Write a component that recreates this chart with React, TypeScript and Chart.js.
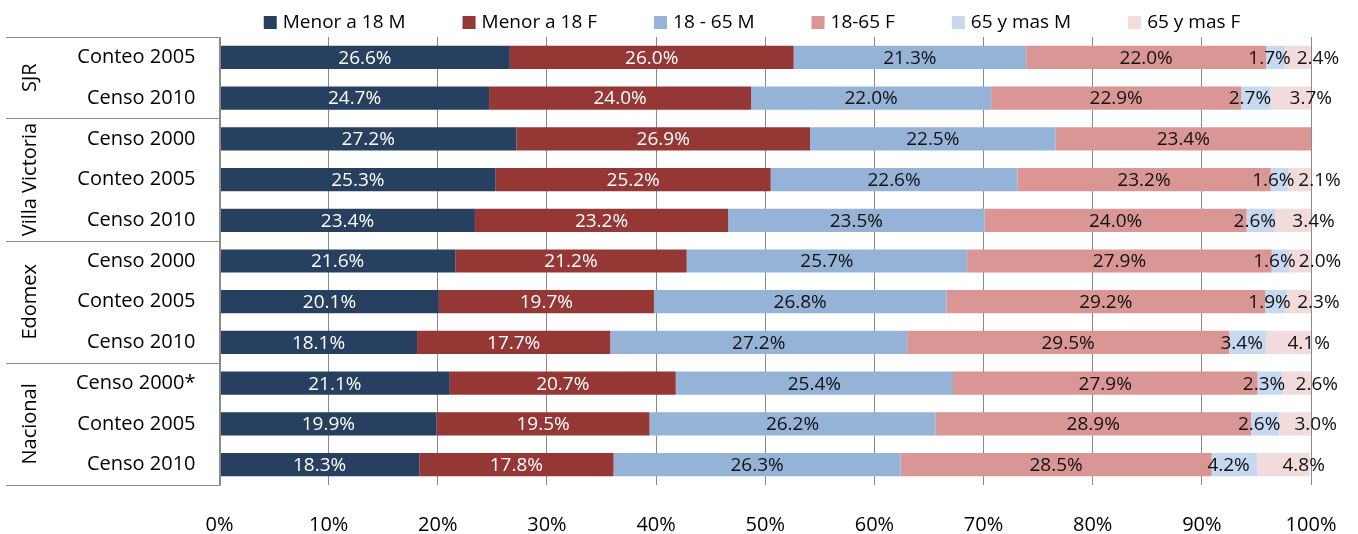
import React, { useEffect, useRef } from 'react';
import { Chart, registerables } from 'chart.js';

Chart.register(...registerables);

const categories = [
  'Conteo 2005', 'Censo 2010',
  'Censo 2000', 'Conteo 2005', 'Censo 2010',
  'Censo 2000', 'Conteo 2005', 'Censo 2010',
  'Censo 2000*', 'Conteo 2005', 'Censo 2010',
];
const groupNames = ['SJR', 'Villa Victoria', 'Edomex', 'Nacional'];
const groupSizes = [2, 3, 3, 3];

const seriesNames = ['Menor a 18 M', 'Menor a 18 F', '18 - 65 M', '18-65 F', '65 y mas M', '65 y mas F'];
const menor18M = [26.6, 24.7, 27.2, 25.3, 23.4, 21.6, 20.1, 18.1, 21.1, 19.9, 18.3];
const menor18F = [26.0, 24.0, 26.9, 25.2, 23.2, 21.2, 19.7, 17.7, 20.7, 19.5, 17.8];
const adulto18a65M = [21.3, 22.0, 22.5, 22.6, 23.5, 25.7, 26.8, 27.2, 25.4, 26.2, 26.3];
const adulto18a65F = [22.0, 22.9, 23.4, 23.2, 24.0, 27.9, 29.2, 29.5, 27.9, 28.9, 28.5];
const mayor65M = [1.7, 2.7, null, 1.6, 2.6, 1.6, 1.9, 3.4, 2.3, 2.6, 4.2];
const mayor65F = [2.4, 3.7, null, 2.1, 3.4, 2.0, 2.3, 4.1, 2.6, 3.0, 4.8];
const xTickStep = 10;

const seriesColors = ['#27405f', '#953735', '#95b3d7', '#d99694', '#c6d9f1', '#f2dcdb'];
const labelColors = ['#ffffff', '#ffffff', '#111111', '#111111', '#111111', '#111111'];

const FONT = '"Open Sans", "Noto Sans", sans-serif';
const LINE_COLOR = '#8a8a8a';

const overlayPlugin = {
  id: 'overlay',
  afterDatasetsDraw(chart: any) {
    const ctx = chart.ctx;
    ctx.save();
    ctx.font = `19px ${FONT}`;
    ctx.textAlign = 'center';
    ctx.textBaseline = 'middle';
    chart.data.datasets.forEach((ds: any, di: number) => {
      const meta = chart.getDatasetMeta(di);
      meta.data.forEach((bar: any, i: number) => {
        const v = ds.data[i];
        if (v == null) return;
        const p = bar.getProps(['x', 'base', 'y'], true);
        let cx = (p.x + p.base) / 2;
        // small trailing segments: labels nudged apart (as Excel does)
        if (v < 5 && di === 4) cx -= 6;
        if (v < 5 && di === 5) cx += 20;
        ctx.fillStyle = labelColors[di];
        ctx.fillText(v.toFixed(1) + '%', cx, p.y + 1);
      });
    });
    ctx.restore();
  },
  afterDraw(chart: any) {
    const ctx = chart.ctx;
    const area = chart.chartArea;
    const yScale = chart.scales.y;
    ctx.save();

    // legend
    ctx.font = `19px ${FONT}`;
    ctx.textBaseline = 'middle';
    ctx.textAlign = 'left';
    const box = 13;
    const gapBox = 6;
    const gapItem = 57;
    const widths = chart.data.datasets.map((d: any) => ctx.measureText(d.label).width);
    const total = widths.reduce((a: number, w: number) => a + box + gapBox + w, 0) + gapItem * (widths.length - 1);
    let lx = 752 - total / 2;
    const ly = 22.5;
    chart.data.datasets.forEach((d: any, i: number) => {
      ctx.fillStyle = d.backgroundColor;
      ctx.fillRect(lx, ly - box / 2, box, box);
      ctx.fillStyle = '#000000';
      ctx.fillText(d.label, lx + box + gapBox, ly);
      lx += box + gapBox + widths[i] + gapItem;
    });

    // table lines on the left
    ctx.strokeStyle = LINE_COLOR;
    ctx.lineWidth = 1;
    const left = 6;
    const axisX = Math.round(area.left) + 0.5;
    const bounds: number[] = [area.top];
    let idx = 0;
    groupSizes.forEach((n, g) => {
      idx += n;
      if (g < groupSizes.length - 1) {
        bounds.push((yScale.getPixelForValue(idx - 1) + yScale.getPixelForValue(idx)) / 2);
      }
    });
    bounds.push(area.bottom);
    bounds.forEach((b) => {
      const yy = Math.round(b) + 0.5;
      ctx.beginPath();
      ctx.moveTo(left, yy);
      ctx.lineTo(axisX, yy);
      ctx.stroke();
    });
    ctx.beginPath();
    ctx.moveTo(axisX, Math.round(area.top) + 0.5);
    ctx.lineTo(axisX, Math.round(area.bottom) + 0.5);
    ctx.stroke();

    // group labels
    ctx.font = `20px ${FONT}`;
    ctx.fillStyle = '#000000';
    ctx.textAlign = 'center';
    ctx.textBaseline = 'middle';
    groupNames.forEach((name, g) => {
      const cy = (bounds[g] + bounds[g + 1]) / 2;
      ctx.save();
      ctx.translate(30, cy);
      ctx.rotate(-Math.PI / 2);
      ctx.fillText(name, 0, 0);
      ctx.restore();
    });

    ctx.restore();
  },
};

export default function App() {
  const canvasRef = useRef<HTMLCanvasElement | null>(null);

  useEffect(() => {
    const canvas = canvasRef.current;
    if (!canvas) return;
    const seriesData = [menor18M, menor18F, adulto18a65M, adulto18a65F, mayor65M, mayor65F];
    const chart = new Chart(canvas, {
      type: 'bar',
      data: {
        labels: categories,
        datasets: seriesNames.map((name, i) => ({
          label: name,
          data: seriesData[i] as any,
          backgroundColor: seriesColors[i],
          borderWidth: 0,
          barPercentage: 0.57,
          categoryPercentage: 1,
        })),
      },
      options: {
        indexAxis: 'y',
        responsive: false,
        animation: false,
        devicePixelRatio: 1,
        layout: { padding: { top: 37, right: 47, bottom: 0, left: 0 } },
        plugins: {
          legend: { display: false },
          tooltip: { enabled: false },
          title: { display: false },
        },
        scales: {
          x: {
            stacked: true,
            min: 0,
            max: 100,
            ticks: {
              stepSize: xTickStep,
              callback: (v: any) => v + '%',
              font: { family: FONT, size: 20 },
              color: '#000000',
              padding: 28,
              maxRotation: 0,
            },
            grid: { color: LINE_COLOR, lineWidth: 1, drawTicks: false },
            border: { display: false },
            afterFit: (s: any) => {
              s.height = 49;
              s.paddingLeft = 0;
              s.paddingRight = 0;
            },
          },
          y: {
            stacked: true,
            offset: true,
            ticks: {
              font: { family: FONT, size: 20 },
              color: '#000000',
              padding: 24,
              autoSkip: false,
            },
            grid: { display: false, drawTicks: false },
            border: { display: false },
            afterFit: (s: any) => {
              s.width = 219.5;
              s.paddingTop = 0;
              s.paddingBottom = 0;
            },
          },
        },
      },
      plugins: [overlayPlugin],
    });
    return () => chart.destroy();
  }, []);

  return (
    <div style={{ position: 'fixed', left: 0, top: 0, width: 1358, height: 534, background: '#ffffff' }}>
      <canvas ref={canvasRef} width={1358} height={534} style={{ width: 1358, height: 534, display: 'block' }} />
    </div>
  );
}
